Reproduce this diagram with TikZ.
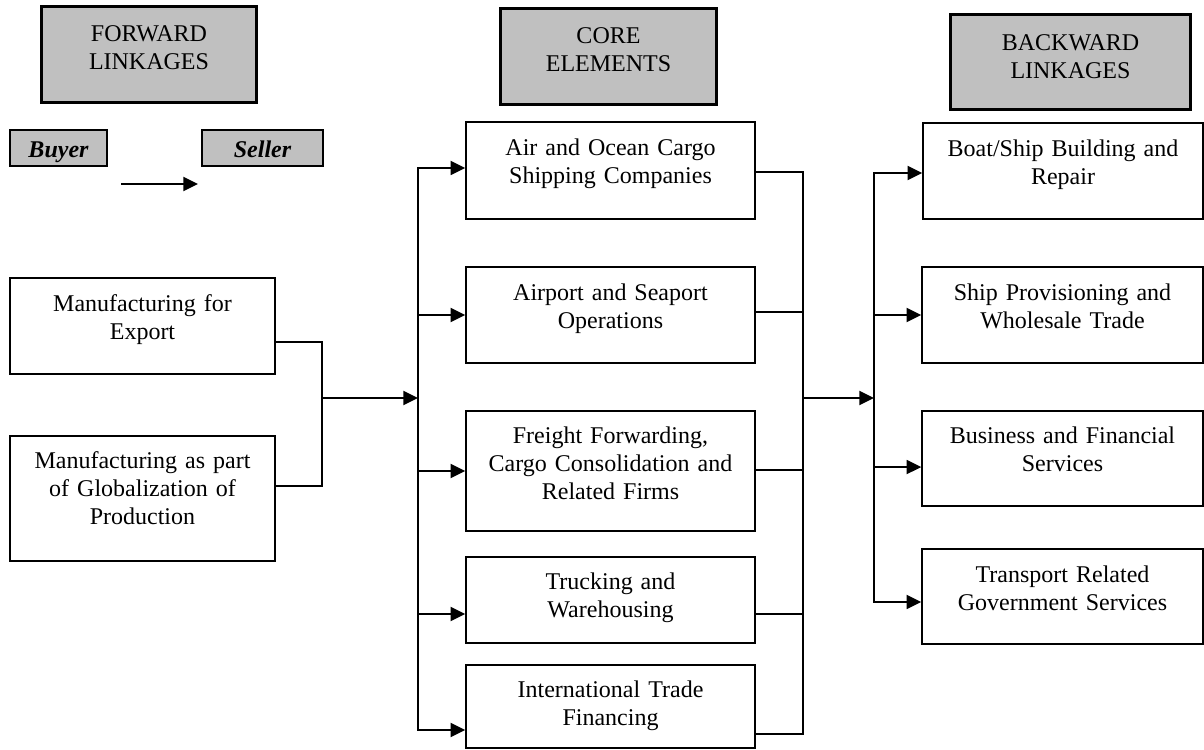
\documentclass[tikz,border=0pt]{standalone}
\usepackage{fontspec}
\setmainfont{Liberation Serif}
\usetikzlibrary{arrows.meta}
\definecolor{hdrgray}{RGB}{192,192,192}
\tikzset{
  base/.style={draw=black, inner sep=0pt, align=center, font=\fontsize{18}{21}\selectfont},
  hdr/.style={base, fill=hdrgray, line width=2.3pt},
  box/.style={base, fill=white, line width=1.1pt},
  tag/.style={draw=black, fill=hdrgray, line width=1.2pt, inner sep=0pt,
    text height=20.25pt, text depth=6.75pt,
    font=\fontsize{18}{21}\selectfont\bfseries\itshape},
  link/.style={line width=1.1pt},
  trunk/.style={line width=1.5pt, line cap=rect},
  arr/.style={line width=1.5pt, -{Triangle[length=11pt,width=10.5pt]}},
}
\begin{document}
\begin{tikzpicture}[x=0.75pt,y=-0.75pt]
\fill[white] (0,0) rectangle (1204,750);
\useasboundingbox (0,0) rectangle (1204,750);

% headers
\node[hdr, text width=161.25pt, text height=25.9pt, text depth=46.1pt] (fwd) at (149,54.5) {FORWARD\\LINKAGES};
\node[hdr, text width=162pt, text height=25.9pt, text depth=46.1pt] (core) at (608.5,56.5) {CORE\\ELEMENTS};
\node[hdr, text width=180pt, text height=26.6pt, text depth=44.6pt] (back) at (1070.5,62) {BACKWARD\\LINKAGES};

% buyer / seller
\node[tag, minimum width=72.75pt] (buyer) at (58.5,148) {Buyer};
\node[tag, minimum width=90.75pt] (seller) at (262.5,148) {Seller};
\coordinate (ka) at (121,184);
\coordinate (kb) at (198,184);
\draw[arr] (ka) -- (kb);

% forward boxes
\node[box, text width=198.75pt, text height=24.75pt, text depth=47.25pt] (mexp) at (142.5,326) {Manufacturing for\\Export};
\node[box, text width=198.75pt, text height=24pt, text depth=69.75pt] (mglob) at (142.5,498.5) {Manufacturing as part\\of Globalization of\\Production};

% core boxes
\node[box, text width=216.75pt, text height=24.75pt, text depth=48pt] (air) at (610.5,170.5) {Air and Ocean Cargo\\Shipping Companies};
\node[box, text width=216.75pt, text height=24.75pt, text depth=47.25pt] (port) at (610.5,315) {Airport and Seaport\\Operations};
\node[box, text width=216.75pt, text height=24pt, text depth=66pt] (freight) at (610.5,471) {Freight Forwarding,\\Cargo Consolidation and\\Related Firms};
\node[box, text width=216.75pt, text height=24pt, text depth=40.5pt] (truck) at (610.5,600) {Trucking and\\Warehousing};
\node[box, text width=216.75pt, text height=24pt, text depth=38.25pt] (intl) at (610.5,706.5) {International Trade\\Financing};

% backward boxes
\node[box, text width=210pt, text height=24.75pt, text depth=47.25pt] (boat) at (1063,171) {Boat/Ship Building and\\Repair};
\node[box, text width=210.75pt, text height=24.75pt, text depth=47.25pt] (ship) at (1062.5,315) {Ship Provisioning and\\Wholesale Trade};
\node[box, text width=210.75pt, text height=24pt, text depth=47.25pt] (busi) at (1062.5,458.5) {Business and Financial\\Services};
\node[box, text width=210.75pt, text height=24.75pt, text depth=46.5pt] (trans) at (1062.5,596.5) {Transport Related\\Government Services};

% forward connectors
\coordinate (lj) at (322,398);
\draw[link] ([yshift=-12pt]mexp.east) -| (lj);
\draw[link] ([yshift=9.4pt]mglob.east) -| (lj);

% left trunk
\coordinate (ain) at ([yshift=1.9pt]air.west);
\coordinate (pin) at (port.west);
\coordinate (fin) at (freight.west);
\coordinate (tin) at ([yshift=-10.5pt]truck.west);
\coordinate (iin) at ([yshift=-17.6pt]intl.west);
\coordinate (lt) at (418,168);
\draw[trunk] (ain -| lt) -- (iin -| lt);
\draw[arr] (lj) -- (lj -| lt);
\draw[arr] (ain -| lt) -- (ain);
\draw[arr] (pin -| lt) -- (pin);
\draw[arr] (fin -| lt) -- (fin);
\draw[arr] (tin -| lt) -- (tin);
\draw[arr] (iin -| lt) -- (iin);

% core to right
\coordinate (rj) at (803,398);
\draw[link] ([yshift=-1.1pt]air.east) -| (rj);
\draw[link] ([yshift=2.25pt]port.east) -| (rj);
\draw[link] ([yshift=0.75pt]freight.east) -| (rj);
\draw[link] ([yshift=-10.5pt]truck.east) -| (rj);
\draw[link] ([yshift=-20.6pt]intl.east) -| (rj);

% right trunk
\coordinate (rt) at (874,173);
\coordinate (bin) at ([yshift=-1.5pt]boat.west);
\coordinate (sin) at (ship.west);
\coordinate (fsin) at ([yshift=-6.4pt]busi.west);
\coordinate (trin) at ([yshift=-4.1pt]trans.west);
\draw[trunk] (bin -| rt) -- (trin -| rt);
\draw[arr] (rj) -- (rj -| rt);
\draw[arr] (bin -| rt) -- (bin);
\draw[arr] (sin -| rt) -- (sin);
\draw[arr] (fsin -| rt) -- (fsin);
\draw[arr] (trin -| rt) -- (trin);
\end{tikzpicture}
\end{document}
